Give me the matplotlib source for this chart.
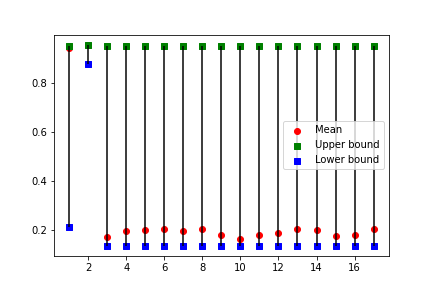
import matplotlib
matplotlib.use("Agg")
import matplotlib.pyplot as plt
import numpy as np

x = list(range(1, 18))
mean = [0.946, 0.955, 0.171, 0.196, 0.200, 0.203, 0.195, 0.203, 0.179, 0.161,
        0.179, 0.186, 0.203, 0.197, 0.174, 0.179, 0.203]
upper = [0.953, 0.958, 0.953, 0.953, 0.953, 0.953, 0.953, 0.953, 0.953, 0.953,
         0.953, 0.953, 0.953, 0.953, 0.953, 0.953, 0.953]
lower = [0.212, 0.879, 0.132, 0.132, 0.132, 0.132, 0.132, 0.132, 0.132, 0.132,
         0.132, 0.132, 0.132, 0.132, 0.132, 0.132, 0.132]

fig, ax = plt.subplots(figsize=(6, 4), dpi=72)
ax.vlines(x, lower, upper, colors='k', linewidth=2, alpha=0.75)
ax.scatter(x, mean, color='red', marker='o', label='Mean')
ax.scatter(x, upper, color='green', marker='s', label='Upper bound')
ax.scatter(x, lower, color='blue', marker='s', label='Lower bound')
ax.legend(loc='center right')
fig.savefig('out.png', dpi=72)
